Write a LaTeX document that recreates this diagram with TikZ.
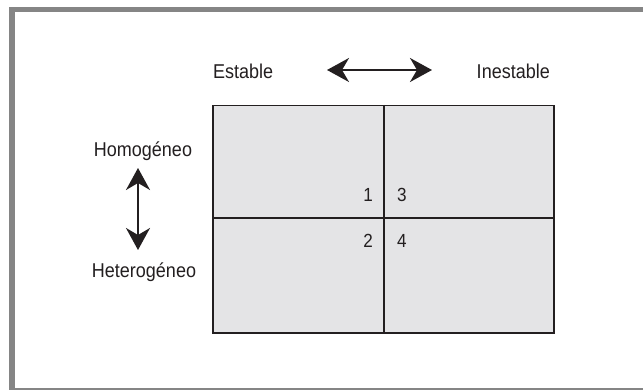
\documentclass[tikz,border=0pt]{standalone}
\usepackage{fontspec}
\setmainfont{Liberation Sans}[FakeStretch=0.9]
\usetikzlibrary{arrows.meta}
\definecolor{framegray}{HTML}{858585}
\definecolor{cellfill}{HTML}{E4E4E6}
\definecolor{inkgray}{HTML}{231F20}
\begin{document}
\begin{tikzpicture}[x=1pt,y=-1pt,
  lbl/.style={font=\fontsize{20}{24}\selectfont, text=inkgray, inner sep=0pt},
  num/.style={font=\fontsize{19}{22}\selectfont, text=inkgray, inner sep=0pt},
  bigarrow/.style={line width=2pt, draw=inkgray, {Stealth[length=22pt,width=24pt,inset=7pt]}-{Stealth[length=22pt,width=24pt,inset=7pt]}},
  cell/.style={fill=cellfill, draw=inkgray, line width=1.5pt}]
\useasboundingbox (0,0) rectangle (643,390);
\fill[white] (0,0) rectangle (643,390);
% partial frame
\fill[framegray] (9,7) rectangle (643,12.5);
\fill[framegray] (9,7) rectangle (15,390);
\fill[framegray] (9,387.5) rectangle (643,390);
% grid
\node[cell, minimum width=341pt, minimum height=227pt, anchor=north west, inner sep=0pt] (grid) at (212,105) {};
\coordinate (vt) at (384,105);
\coordinate (vb) at (384,332);
\coordinate (hl) at (212,218);
\coordinate (hr) at (553,218);
\draw[inkgray, line width=1.5pt] (vt) -- (vb);
\draw[inkgray, line width=1.5pt] (hl) -- (hr);
% numbers
\node[num, anchor=base east] (n1) at (373,202) {1};
\node[num, anchor=base west] (n3) at (397,202) {3};
\node[num, anchor=base east] (n2) at (373,248) {2};
\node[num, anchor=base west] (n4) at (397,248) {4};
% labels
\node[lbl, anchor=base west] (est) at (213,79) {Estable};
\node[lbl, anchor=base east] (inest) at (550,79) {Inestable};
\node[lbl, anchor=base] (hom) at (143,157) {Homogéneo};
\node[lbl, anchor=base] (het) at (144,278) {Heterogéneo};
% arrows
\coordinate (ha) at (327,70);
\coordinate (hb) at (432,70);
\draw[bigarrow] (ha) -- (hb);
\coordinate (va) at (138,168);
\coordinate (vb2) at (138,250);
\draw[bigarrow] (va) -- (vb2);
\end{tikzpicture}
\end{document}
